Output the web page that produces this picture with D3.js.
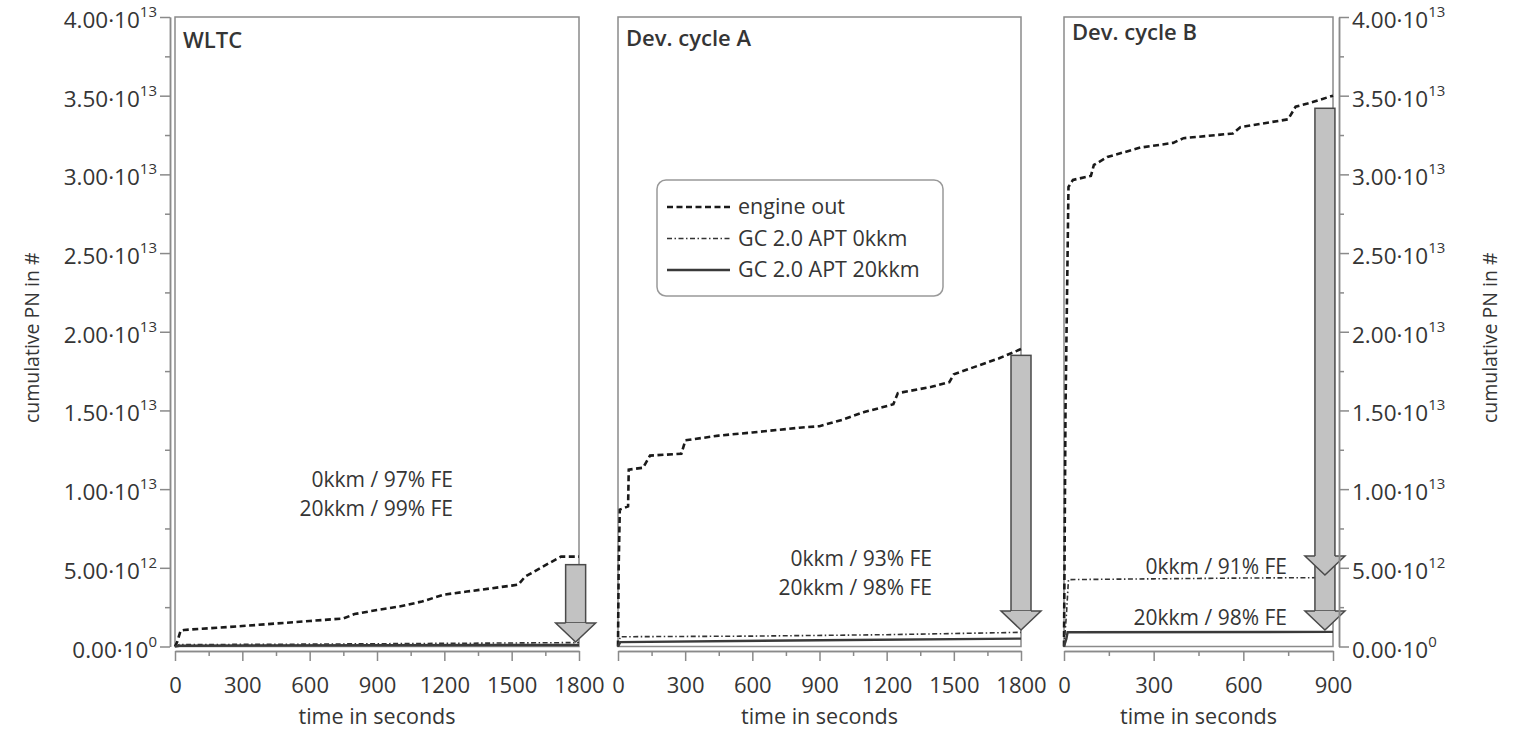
<!DOCTYPE html>
<html>
<head>
<meta charset="utf-8">
<script src="https://cdn.jsdelivr.net/npm/d3@7"></script>
<style>
  body { margin: 0; background: #fff; }
  text { font-family: "Open Sans", sans-serif; fill: #353535; }
</style>
</head>
<body>
<svg></svg>
<script>
const width = 1518,
      height = 729

// y axis
const yTicks = [0, 5e12, 1e13, 1.5e13, 2e13, 2.5e13, 3e13, 3.5e13, 4e13]
const yTickBase = ["0.00·10", "5.00·10", "1.00·10", "1.50·10", "2.00·10", "2.50·10", "3.00·10", "3.50·10", "4.00·10"]
const yTickExp = ["0", "12", "13", "13", "13", "13", "13", "13", "13"]

const cycleNames = ["WLTC", "Dev. cycle A", "Dev. cycle B"]
const cycleLength = [1800, 1800, 900]
const seriesNames = ["engine out", "GC 2.0 APT 0kkm", "GC 2.0 APT 20kkm"]

// WLTC
const wltcEngineT = [0, 10, 25, 40, 300, 600, 750, 800, 900, 1000, 1100, 1200, 1300, 1500, 1530, 1560, 1600, 1680, 1720, 1800]
const wltcEngineV = [0, 0.3e12, 1.0e12, 1.05e12, 1.30e12, 1.62e12, 1.78e12, 2.06e12, 2.32e12, 2.54e12, 2.86e12, 3.30e12, 3.49e12, 3.87e12, 3.94e12, 4.44e12, 4.76e12, 5.40e12, 5.71e12, 5.71e12]
const wltc0T = [0, 20, 600, 1200, 1800]
const wltc0V = [0, 0.12e12, 0.15e12, 0.2e12, 0.25e12]
const wltc20T = [0, 20, 1800]
const wltc20V = [0, 0.05e12, 0.1e12]

// Dev. cycle A
const devAEngineT = [0, 3, 8, 45, 48, 112, 143, 283, 301, 450, 600, 810, 900, 1000, 1100, 1180, 1230, 1250, 1400, 1480, 1500, 1600, 1700, 1800]
const devAEngineV = [0, 5e12, 8.7e12, 8.9e12, 11.24e12, 11.36e12, 12.13e12, 12.25e12, 13.1e12, 13.4e12, 13.6e12, 13.9e12, 14.0e12, 14.4e12, 14.9e12, 15.2e12, 15.4e12, 16.1e12, 16.5e12, 16.8e12, 17.3e12, 17.8e12, 18.3e12, 18.9e12]
const devA0T = [0, 10, 600, 1200, 1800]
const devA0V = [0, 0.62e12, 0.66e12, 0.75e12, 0.9e12]
const devA20T = [0, 10, 900, 1800]
const devA20V = [0, 0.28e12, 0.4e12, 0.5e12]

// Dev. cycle B
const devBEngineT = [0, 5, 15, 30, 90, 100, 145, 255, 365, 400, 565, 590, 750, 775, 815, 900]
const devBEngineV = [0, 1.5e13, 2.92e13, 2.965e13, 2.99e13, 3.06e13, 3.11e13, 3.17e13, 3.20e13, 3.23e13, 3.26e13, 3.30e13, 3.35e13, 3.43e13, 3.45e13, 3.50e13]
const devB0T = [0, 8, 15, 300, 600, 900]
const devB0V = [0, 2.0e12, 4.25e12, 4.3e12, 4.35e12, 4.38e12]
const devB20T = [0, 8, 12, 900]
const devB20V = [0, 0.5e12, 0.91e12, 0.93e12]

// reduction arrows and filtration efficiency labels
const arrowT = [1785, 1800, 873]
const arrowTop = [5.2e12, 1.85e13, 3.42e13]
const arrowTips = [[0.29e12], [1.05e12], [4.54e12, 1.05e12]]
const feLabels = [["0kkm / 97% FE", "20kkm / 99% FE"], ["0kkm / 93% FE", "20kkm / 98% FE"], ["0kkm / 91% FE", "20kkm / 98% FE"]]

const zip = (t, v) => t.map((d, i) => [d, v[i]])
const cycleSeries = [
  [zip(wltcEngineT, wltcEngineV), zip(wltc0T, wltc0V), zip(wltc20T, wltc20V)],
  [zip(devAEngineT, devAEngineV), zip(devA0T, devA0V), zip(devA20T, devA20V)],
  [zip(devBEngineT, devBEngineV), zip(devB0T, devB0V), zip(devB20T, devB20V)]
]

const svg = d3.select("svg")
  .attr("width", width)
  .attr("height", height)

const plotTop = 17, plotBottom = 646.5
const y = d3.scaleLinear().domain([0, 4e13]).range([plotBottom, plotTop])

// pixel layout of the three panels
const panelX = [[175, 579], [618, 1021], [1064, 1333]]
const titleY = [48, 46, 40]
const feX = [453, 932, 1287]
const feY = [[487, 516], [566, 595], [574, 625]]

const lineStyles = [
  {dash: "6,3.5", width: 2.6, color: "#1a1a1a"},
  {dash: "5,2.5,1.5,2.5", width: 1.6, color: "#333"},
  {dash: null, width: 2.4, color: "#3a3a3a"}
]

const axisColor = "#8a8a8a"

function styleAxis(g) {
  g.select(".domain").attr("stroke", axisColor).attr("stroke-width", 1.5)
  g.selectAll(".tick line").attr("stroke", axisColor).attr("stroke-width", 1.5)
}

cycleNames.forEach((name, i) => {
  const x = d3.scaleLinear().domain([0, cycleLength[i]]).range(panelX[i])
  const g = svg.append("g")

  // frame
  g.append("rect")
    .attr("x", x(0)).attr("y", plotTop)
    .attr("width", x(cycleLength[i]) - x(0)).attr("height", plotBottom - plotTop)
    .attr("fill", "none").attr("stroke", axisColor).attr("stroke-width", 1.5)

  // x axis with minor ticks
  const step = 300
  const major = d3.range(0, cycleLength[i] + 1, step)
  const minor = d3.range(step / 2, cycleLength[i], step)
  g.append("g")
    .attr("transform", `translate(0,${plotBottom + 4.5})`)
    .call(d3.axisBottom(x).tickValues(minor).tickSize(5).tickSizeOuter(0).tickFormat(""))
    .call(styleAxis)
  g.append("g")
    .attr("transform", `translate(0,${plotBottom + 4.5})`)
    .call(d3.axisBottom(x).tickValues(major).tickSize(10).tickSizeOuter(0).tickPadding(16).tickFormat(d3.format("d")))
    .call(styleAxis)
    .call(a => a.selectAll(".tick text").style("font-size", "22px").attr("fill", "#353535"))

  g.append("text")
    .attr("x", (x(0) + x(cycleLength[i])) / 2).attr("y", 724)
    .attr("text-anchor", "middle")
    .style("font-size", "21.5px")
    .text("time in seconds")

  g.append("text")
    .attr("x", x(0) + 8).attr("y", titleY[i])
    .style("font-size", "22px").style("font-weight", 600)
    .text(name)

  // series
  cycleSeries[i].forEach((pts, k) => {
    const s = lineStyles[k]
    g.append("path")
      .datum(pts)
      .attr("d", d3.line().x(d => x(d[0])).y(d => y(d[1])))
      .attr("fill", "none")
      .attr("stroke", s.color)
      .attr("stroke-width", s.width)
      .attr("stroke-dasharray", s.dash)
  })

  // FE labels
  feLabels[i].forEach((t, k) => {
    g.append("text")
      .attr("x", feX[i]).attr("y", feY[i][k])
      .attr("text-anchor", "end")
      .style("font-size", "21px")
      .text(t)
  })

  // arrow
  const ax = x(arrowT[i]), hw = 10, hh = 20, hd = 19
  const tips = arrowTips[i]
  const last = tips[tips.length - 1]
  const arrowFill = "#c2c2c2", arrowStroke = "#4a4a4a"
  g.append("rect")
    .attr("x", ax - hw).attr("y", y(arrowTop[i]))
    .attr("width", hw * 2).attr("height", y(last) - hd - y(arrowTop[i]))
    .attr("fill", arrowFill).attr("stroke", arrowStroke).attr("stroke-width", 1.5)
  tips.slice().reverse().forEach(v => {
    const ty = y(v)
    g.append("path")
      .attr("d", `M${ax - hw},${ty - hd}L${ax - hh},${ty - hd}L${ax},${ty}L${ax + hh},${ty - hd}L${ax + hw},${ty - hd}`)
      .attr("fill", arrowFill).attr("stroke", arrowStroke).attr("stroke-width", 1.5)
      .attr("stroke-linejoin", "miter")
  })
})

// y axes (left on WLTC, right on Dev. cycle B)
const yMinor = d3.range(2.5e12, 4e13, 5e12)
function yAxis(axisFn, xPos, sign) {
  svg.append("g")
    .attr("transform", `translate(${xPos},0)`)
    .call(axisFn(y).tickValues(yMinor).tickSize(5).tickSizeOuter(0).tickFormat(""))
    .call(styleAxis)
  svg.append("g")
    .attr("transform", `translate(${xPos},0)`)
    .call(axisFn(y).tickValues(yTicks).tickSize(10).tickSizeOuter(0).tickFormat(""))
    .call(styleAxis)
  const lab = svg.append("g").selectAll("text")
    .data(yTicks)
    .join("text")
      .attr("x", xPos + sign * 13)
      .attr("y", d => y(d) + 11)
      .attr("text-anchor", sign < 0 ? "end" : "start")
      .style("font-size", "22.5px")
  lab.append("tspan").text((d, i) => yTickBase[i])
  lab.append("tspan")
    .attr("dy", -11)
    .style("font-size", "15px")
    .text((d, i) => yTickExp[i])
}
yAxis(d3.axisLeft, 170, -1)
yAxis(d3.axisRight, 1339, 1)

const midY = (plotTop + plotBottom) / 2 + 6
svg.append("text")
  .attr("transform", `translate(39,${midY}) rotate(-90)`)
  .attr("text-anchor", "middle")
  .style("font-size", "19.5px")
  .text("cumulative PN in #")
svg.append("text")
  .attr("transform", `translate(1497,${midY}) rotate(-90)`)
  .attr("text-anchor", "middle")
  .style("font-size", "19.5px")
  .text("cumulative PN in #")

// legend
const legend = svg.append("g").attr("transform", "translate(657,180)")
legend.append("rect")
  .attr("width", 286).attr("height", 116).attr("rx", 9)
  .attr("fill", "#fff").attr("stroke", "#999").attr("stroke-width", 1.5)
seriesNames.forEach((n, k) => {
  const s = lineStyles[k]
  const ly = 27 + k * 31.5
  legend.append("line")
    .attr("x1", 10).attr("x2", 73).attr("y1", ly).attr("y2", ly)
    .attr("stroke", s.color).attr("stroke-width", s.width)
    .attr("stroke-dasharray", s.dash)
  legend.append("text")
    .attr("x", 81).attr("y", ly + 7)
    .style("font-size", "21.5px")
    .text(n)
})
</script>
</body>
</html>
